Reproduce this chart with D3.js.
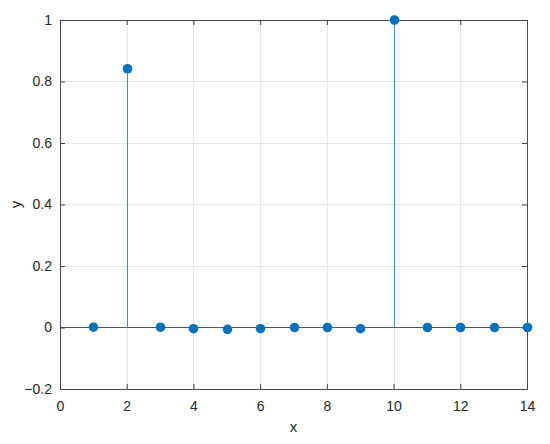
<!DOCTYPE html>
<html><head><meta charset="utf-8">
<script src="https://cdn.jsdelivr.net/npm/d3@7"></script>
<style>body{margin:0;background:#fff}svg{display:block}text{font-family:"Liberation Sans",Arial,sans-serif}</style>
</head><body><svg id="c" width="550" height="444"></svg>
<script>
const xs = [1,2,3,4,5,6,7,8,9,10,11,12,13,14];
const ys = [0.001,0.8415,0.001,-0.004,-0.006,-0.004,0,0,-0.004,1,0,0,0,0];
const xTicks = [0,2,4,6,8,10,12,14];
const yTicks = [-0.2,0,0.2,0.4,0.6,0.8,1];

const svg = d3.select("#c");
const L=60,R=527,T=20,B=389;
const x = d3.scaleLinear().domain([0,14]).range([L,R]);
const y = d3.scaleLinear().domain([-0.2,1]).range([B,T]);
const px = v => Math.round(x(v))+0.5;
const py = v => Math.round(y(v))+0.5;
const fmt = d => d===0?"0":String(d).replace("-","\u2212");

// grid
svg.append("g").selectAll("line").data(xTicks).join("line")
  .attr("x1",d=>px(d)).attr("x2",d=>px(d)).attr("y1",T).attr("y2",B)
  .attr("stroke","#e6e6e6").attr("stroke-width",1);
svg.append("g").selectAll("line").data(yTicks).join("line")
  .attr("y1",d=>py(d)).attr("y2",d=>py(d)).attr("x1",L).attr("x2",R)
  .attr("stroke","#e6e6e6").attr("stroke-width",1);

// baseline
svg.append("line").attr("x1",L).attr("x2",R).attr("y1",py(0)).attr("y2",py(0))
  .attr("stroke","#555").attr("stroke-width",1);

// box
svg.append("rect").attr("x",L+0.5).attr("y",T+0.5).attr("width",R-L).attr("height",B-T)
  .attr("fill","none").attr("stroke","#262626").attr("stroke-width",1).attr("stroke-opacity",0.8);

// axes with inward ticks
const ax = svg.append("g").attr("transform",`translate(0,${B})`)
  .call(d3.axisBottom(x).tickValues(xTicks).tickSizeInner(-5).tickSizeOuter(0).tickPadding(12).tickFormat(fmt));
const ay = svg.append("g").attr("transform",`translate(${L},0)`)
  .call(d3.axisLeft(y).tickValues(yTicks).tickSizeInner(-5).tickSizeOuter(0).tickPadding(8).tickFormat(fmt));
const axT = svg.append("g").attr("transform",`translate(0,${T})`)
  .call(d3.axisTop(x).tickValues(xTicks).tickSizeInner(-5).tickSizeOuter(0).tickFormat(""));
const ayR = svg.append("g").attr("transform",`translate(${R},0)`)
  .call(d3.axisRight(y).tickValues(yTicks).tickSizeInner(-5).tickSizeOuter(0).tickFormat(""));
[ax,ay,axT,ayR].forEach(g=>{
  g.select(".domain").remove();
  g.selectAll("line").attr("stroke","#404040");
  g.selectAll("text").attr("fill","#262626").style("font-size","14px").style("font-family","'Liberation Sans',Arial,sans-serif");
});

// stems
svg.append("g").selectAll("line").data(xs).join("line")
  .attr("x1",d=>px(d)).attr("x2",d=>px(d))
  .attr("y1",py(0)).attr("y2",(d,i)=>y(ys[i]))
  .attr("stroke","#3d8fc9").attr("stroke-width",1);
svg.append("g").selectAll("circle").data(xs).join("circle")
  .attr("cx",d=>px(d)).attr("cy",(d,i)=>y(ys[i])).attr("r",4.8)
  .attr("fill","#0072BD");

// labels
svg.append("text").attr("x",(L+R)/2).attr("y",432).attr("text-anchor","middle")
  .attr("fill","#262626").style("font-size","15px").text("x");
svg.append("text").attr("transform",`translate(21,${(T+B)/2}) rotate(-90)`).attr("text-anchor","middle")
  .attr("fill","#262626").style("font-size","15px").text("y");
</script></body></html>
